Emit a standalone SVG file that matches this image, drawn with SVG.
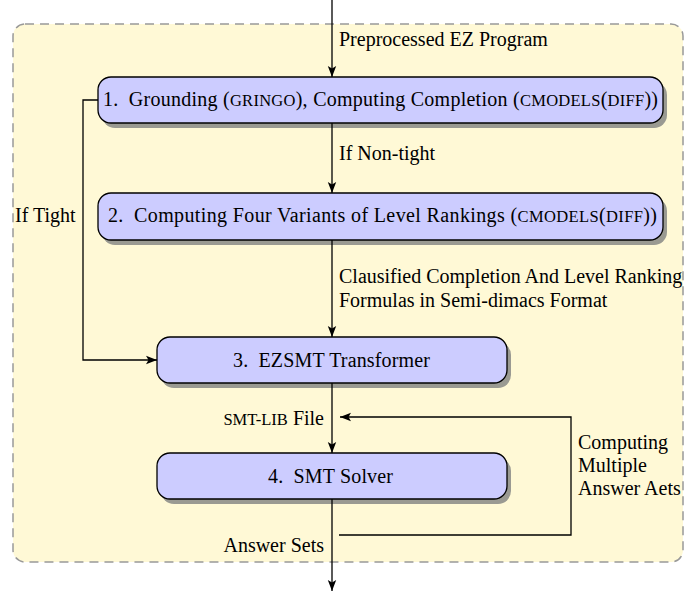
<svg xmlns="http://www.w3.org/2000/svg" width="685" height="591" viewBox="0 0 685 591">
  <style>
    text { font-family: "Liberation Serif", "Times New Roman", serif; font-size: 20px; fill: #000; }
    .sc { font-size: 16.5px; }
    .mid { text-anchor: middle; }
    .end { text-anchor: end; }
    .box { fill: #ccccff; stroke: #000; stroke-width: 1.3; }
    .shadow { fill: #9a9a92; }
    .conn { fill: none; stroke: #000; stroke-width: 1.3; }
  </style>
  <defs>
    <marker id="arr" markerUnits="userSpaceOnUse" markerWidth="12" markerHeight="10" refX="11" refY="5" orient="auto">
      <path d="M0,0.8 L11,5 L0,9.2 L2.5,5 Z" fill="#000"/>
    </marker>
  </defs>

  <rect id="background" x="13" y="24" width="670" height="538" rx="12" ry="12" fill="#fff9d6" stroke="#999" stroke-width="1.5" stroke-dasharray="9,6"/>

  <g id="node1">
    <rect class="shadow" x="102" y="82" width="565" height="46" rx="13"/>
    <rect class="box" x="98" y="77" width="565" height="46" rx="13"/>
    <text class="mid" x="380.5" y="106" textLength="555" lengthAdjust="spacing">1.<tspan dx="5"> Grounding (</tspan><tspan class="sc">GRINGO</tspan>), Computing Completion (<tspan class="sc">CMODELS</tspan>(<tspan class="sc">DIFF</tspan>))</text>
  </g>
  <g id="node2">
    <rect class="shadow" x="102" y="198" width="565" height="47" rx="13"/>
    <rect class="box" x="98" y="193" width="565" height="47" rx="13"/>
    <text class="mid" x="382.5" y="222" textLength="549" lengthAdjust="spacing">2.<tspan dx="5"> Computing Four Variants of Level Rankings (</tspan><tspan class="sc">CMODELS</tspan>(<tspan class="sc">DIFF</tspan>))</text>
  </g>
  <g id="node3">
    <rect class="shadow" x="161" y="342" width="350" height="46" rx="13"/>
    <rect class="box" x="157" y="337" width="350" height="46" rx="13"/>
    <text class="mid" x="331.5" y="367" textLength="197" lengthAdjust="spacing">3.<tspan dx="5"> EZSMT Transformer</tspan></text>
  </g>
  <g id="node4">
    <rect class="shadow" x="161" y="458" width="350" height="46" rx="13"/>
    <rect class="box" x="157" y="453" width="350" height="46" rx="13"/>
    <text class="mid" x="330.5" y="483" textLength="125" lengthAdjust="spacing">4.<tspan dx="5"> SMT Solver</tspan></text>
  </g>

  <g id="connectors">
    <line class="conn" x1="332" y1="0" x2="332" y2="77" marker-end="url(#arr)"/>
    <line class="conn" x1="332" y1="123" x2="332" y2="193" marker-end="url(#arr)"/>
    <line class="conn" x1="332" y1="240" x2="332" y2="337" marker-end="url(#arr)"/>
    <line class="conn" x1="332" y1="383" x2="332" y2="453" marker-end="url(#arr)"/>
    <line class="conn" x1="332" y1="499" x2="332" y2="591" marker-end="url(#arr)"/>
    <polyline class="conn" points="98,100 83,100 83,360 157,360" marker-end="url(#arr)"/>
    <polyline class="conn" points="339,535 571,535 571,417 340,417" marker-end="url(#arr)"/>
  </g>

  <g id="labels">
    <text x="339" y="46">Preprocessed EZ Program</text>
    <text x="339" y="160">If Non-tight</text>
    <text x="339" y="283">Clausified Completion And Level Ranking</text>
    <text x="339" y="307">Formulas in Semi-dimacs Format</text>
    <text x="15" y="222">If Tight</text>
    <text class="end" x="324" y="425"><tspan class="sc">SMT-LIB</tspan> File</text>
    <text class="end" x="324" y="552">Answer Sets</text>
    <text x="578" y="449">Computing</text>
    <text x="578" y="472">Multiple</text>
    <text x="578" y="495">Answer Aets</text>
  </g>
</svg>
